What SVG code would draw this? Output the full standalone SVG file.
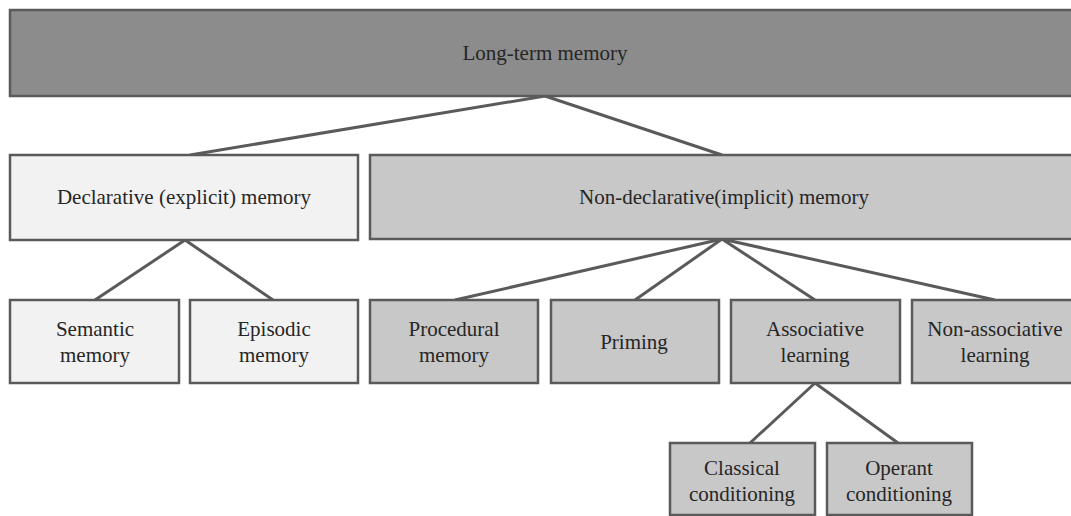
<svg xmlns="http://www.w3.org/2000/svg" width="1071" height="516" viewBox="0 0 1071 516">
<style>
rect{stroke:#5a5a5a;stroke-width:2.5}
.top{fill:#8c8c8c}
.light{fill:#f2f2f2}
.mid{fill:#c8c8c8}
text{font-family:"Liberation Serif","Times New Roman",serif;font-size:21px;fill:#262626;text-anchor:middle}
#connectors line{stroke:#5a5a5a;stroke-width:3}
</style>
<rect width="1071" height="516" fill="#ffffff" style="stroke:none"/>
<g id="connectors">
<line x1="545" y1="96" x2="190" y2="155"/>
<line x1="545" y1="96" x2="722" y2="155"/>
<line x1="185" y1="240" x2="95" y2="300"/>
<line x1="185" y1="240" x2="273" y2="300"/>
<line x1="722" y1="239" x2="455" y2="300"/>
<line x1="722" y1="239" x2="635" y2="300"/>
<line x1="722" y1="239" x2="815" y2="300"/>
<line x1="722" y1="239" x2="995" y2="300"/>
<line x1="815" y1="383" x2="750" y2="443"/>
<line x1="815" y1="383" x2="898" y2="443"/>
</g>
<g id="ltm"><rect class="top" x="10" y="10" width="1075" height="86"/><text x="545" y="60">Long-term memory</text></g>
<g id="declarative"><rect class="light" x="10" y="155" width="348" height="85"/><text x="184" y="204">Declarative (explicit) memory</text></g>
<g id="nondeclarative"><rect class="mid" x="370" y="155" width="715" height="84"/><text x="724" y="204">Non-declarative(implicit) memory</text></g>
<g id="semantic"><rect class="light" x="10" y="300" width="169" height="83"/><text x="95" y="336">Semantic</text><text x="95" y="362">memory</text></g>
<g id="episodic"><rect class="light" x="190" y="300" width="168" height="83"/><text x="274" y="336">Episodic</text><text x="274" y="362">memory</text></g>
<g id="procedural"><rect class="mid" x="370" y="300" width="168" height="83"/><text x="454" y="336">Procedural</text><text x="454" y="362">memory</text></g>
<g id="priming"><rect class="mid" x="551" y="300" width="168" height="83"/><text x="634" y="349">Priming</text></g>
<g id="associative"><rect class="mid" x="731" y="300" width="169" height="83"/><text x="815" y="336">Associative</text><text x="815" y="362">learning</text></g>
<g id="nonassociative"><rect class="mid" x="912" y="300" width="173" height="83"/><text x="995" y="336">Non-associative</text><text x="995" y="362">learning</text></g>
<g id="classical"><rect class="mid" x="670" y="443" width="145" height="72"/><text x="742" y="475">Classical</text><text x="742" y="501">conditioning</text></g>
<g id="operant"><rect class="mid" x="827" y="443" width="145" height="72"/><text x="899" y="475">Operant</text><text x="899" y="501">conditioning</text></g>
</svg>
